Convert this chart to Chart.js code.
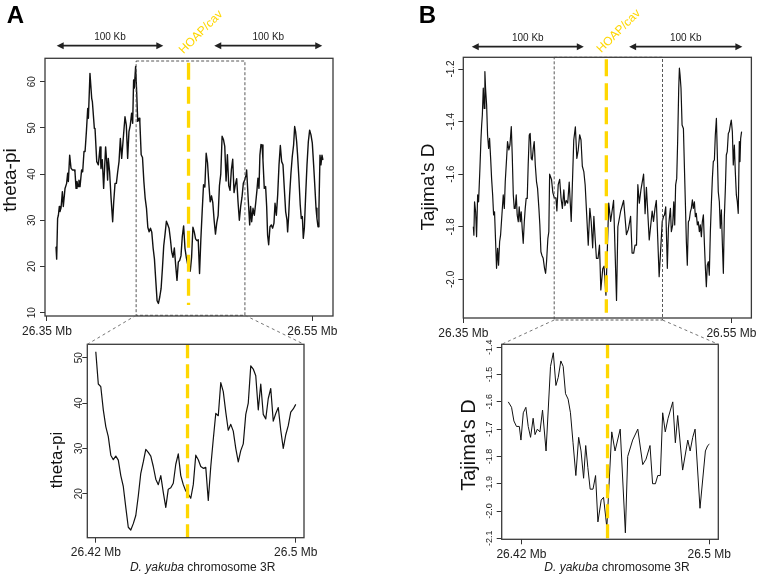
<!DOCTYPE html>
<html><head><meta charset="utf-8">
<script src="https://cdn.jsdelivr.net/npm/chart.js@4/dist/chart.umd.min.js"></script>
<style>
html,body{margin:0;padding:0;background:#fff;}
#wrap{position:relative;width:760px;height:576px;overflow:hidden;background:#fff;}
canvas{position:absolute;left:0;top:0;}
</style></head><body><div id="wrap">
<canvas id="cTA" width="760" height="576"></canvas>
<canvas id="cTB" width="760" height="576"></canvas>
<canvas id="cBA" width="760" height="576"></canvas>
<canvas id="cBB" width="760" height="576"></canvas>
</div>
<script>
// ---------------- DATA ----------------
// Panel A (theta-pi), positions in Mb
const preAPos = [26.3568,26.3573,26.3580,26.3586,26.3593,26.3598,26.3606,26.3616,26.3623,26.3636,26.3648,26.3656,26.3661,26.3671,26.3681,26.3691,26.3706,26.3711,26.3719,26.3726,26.3734,26.3741,26.3749,26.3761,26.3769,26.3779,26.3787,26.3797,26.3807,26.3812,26.3824,26.3837,26.3842,26.3857,26.3862,26.3875,26.3887,26.3900,26.3907,26.3917,26.3927,26.3942,26.3950,26.3957,26.3962,26.3972,26.3983,26.3995,26.4003,26.4013,26.4023,26.4033,26.4043,26.4053,26.4063,26.4073,26.4088,26.4098,26.4108,26.4118,26.4128,26.4138,26.4146,26.4153,26.4158,26.4168,26.4176,26.4184,26.4194];
const preAVal = [24.3,21.6,30.4,31.1,33,31.9,32.7,36.2,33,36.9,38,40.2,38.4,44.1,41.3,40.9,40.9,40.5,36.9,38.4,37.3,38.7,37.3,40.9,40.5,44.9,44.9,49.2,54.2,52.1,61.8,56.4,55.7,49.9,49.9,42.7,42,45.9,41.2,43.1,36.9,45.9,42.7,38.7,43.4,40.5,34.8,29.7,34,38,38,40.5,42.7,47.7,43.4,47,52.4,50.6,43.4,49.2,50.6,53.2,51,60.4,58.6,63.3,57.8,51.4,52.1];
const zoomAPos = [26.420,26.421,26.422,26.423,26.424,26.425,26.426,26.427,26.428,26.429,26.430,26.431,26.432,26.433,26.434,26.435,26.436,26.437,26.438,26.439,26.440,26.441,26.442,26.443,26.444,26.445,26.446,26.447,26.448,26.449,26.450,26.451,26.452,26.453,26.454,26.455,26.456,26.457,26.458,26.459,26.460,26.461,26.462,26.463,26.464,26.465,26.466,26.467,26.468,26.469,26.470,26.471,26.472,26.473,26.474,26.475,26.476,26.477,26.478,26.479,26.480,26.481,26.482,26.483,26.484,26.485,26.486,26.487,26.488,26.489,26.490,26.491,26.492,26.493,26.494,26.495,26.496,26.497,26.498,26.499,26.500];
const zoomAVal = [51.3,44.2,43.6,38.5,34.8,32.6,28.5,27.5,28.3,27.4,24,21.6,17,12.6,12,13.4,15.2,19.5,24.5,27,29.8,29.1,28.3,26,23.2,22,24,20.3,17,21,21.3,22.3,26.5,28.8,24,22,20.6,19.9,19,22,28.5,27.5,26,25.6,25.8,18.5,26,32,37.7,37.2,44.5,42.5,38,34,35.3,33.8,30,27,29.5,31,37.5,40,48.2,47.5,46,38.5,44.2,37.5,36.5,41,43.2,36,37.7,39,34,30,33,35,38,38.7,39.7];
const postAPos = [26.5005,26.5018,26.5028,26.5035,26.5043,26.5053,26.5063,26.5073,26.5083,26.5090,26.5098,26.5105,26.5113,26.5121,26.5128,26.5138,26.5148,26.5156,26.5163,26.5171,26.5181,26.5191,26.5201,26.5211,26.5219,26.5229,26.5239,26.5249,26.5259,26.5269,26.5279,26.5289,26.5299,26.5309,26.5314,26.5322,26.5329,26.5339,26.5349,26.5359,26.5367,26.5374,26.5382,26.5389,26.5399,26.5409,26.5417,26.5425,26.5432,26.5440,26.5450,26.5460,26.5470,26.5480,26.5490,26.5500,26.5510,26.5520,26.5528,26.5535,26.5543,26.5550,26.5558,26.5565,26.5573,26.5580];
const postAVal = [40.9,34,29,33,29.7,32.6,31.1,33.7,36.6,39.1,36.9,44.1,46.4,46.3,43.05,36.9,37.3,33,26.8,24.7,28.6,29,28.3,29.4,33.7,31.1,35.5,42,46.2,42.7,42,36.9,31.9,30.1,27.5,31.1,35.5,40.2,43.8,46.3,50.3,49.2,47,44.1,39.1,33.3,30.4,30.8,26.1,28.3,35.5,42,47,49.5,48.5,46.7,42,36.9,32.6,30.4,28.6,32.6,44.1,42,44.1,43.05];

// Panel B (Tajima's D)
const preBPos = [26.3575,26.3579,26.3584,26.3592,26.3599,26.3607,26.3614,26.3624,26.3632,26.3637,26.3642,26.3649,26.3656,26.3661,26.3666,26.3674,26.3681,26.3689,26.3696,26.3704,26.3711,26.3719,26.3726,26.3733,26.3741,26.3748,26.3756,26.3763,26.3771,26.3778,26.3788,26.3798,26.3806,26.3813,26.3823,26.3830,26.3840,26.3848,26.3858,26.3865,26.3873,26.3880,26.3887,26.3895,26.3902,26.3910,26.3917,26.3925,26.3932,26.3940,26.3947,26.3955,26.3962,26.3969,26.3977,26.3984,26.3992,26.3999,26.4007,26.4014,26.4022,26.4029,26.4037,26.4046,26.4054,26.4064,26.4071,26.4079,26.4086,26.4096,26.4106,26.4114,26.4121,26.4131,26.4138];
const preBVal = [-1.80,-1.832,-1.705,-1.743,-1.838,-1.679,-1.705,-1.578,-1.464,-1.413,-1.375,-1.273,-1.350,-1.210,-1.273,-1.337,-1.451,-1.502,-1.464,-1.540,-1.616,-1.679,-1.755,-1.743,-1.857,-1.958,-1.882,-1.946,-1.857,-1.832,-1.755,-1.679,-1.730,-1.628,-1.540,-1.476,-1.508,-1.489,-1.419,-1.527,-1.679,-1.730,-1.730,-1.679,-1.755,-1.781,-1.724,-1.781,-1.743,-1.812,-1.863,-1.781,-1.730,-1.692,-1.692,-1.565,-1.451,-1.445,-1.540,-1.546,-1.502,-1.476,-1.565,-1.628,-1.654,-1.730,-1.793,-1.895,-1.908,-1.920,-1.958,-1.977,-1.933,-1.844,-1.819];
const zoomBPos = [26.4144,26.4158,26.4168,26.4179,26.4191,26.4198,26.4208,26.4219,26.4229,26.4239,26.4250,26.4258,26.4268,26.4279,26.4290,26.4305,26.4324,26.4336,26.4347,26.4357,26.4368,26.4378,26.4388,26.4399,26.4409,26.4420,26.4432,26.4444,26.4454,26.4465,26.4474,26.4483,26.4493,26.4505,26.4516,26.4526,26.4540,26.4550,26.4564,26.4585,26.4599,26.4621,26.4643,26.4653,26.4674,26.4696,26.4717,26.4731,26.4748,26.4759,26.4771,26.4781,26.4792,26.4802,26.4813,26.4825,26.4845,26.4856,26.4866,26.4887,26.4909,26.4919,26.4930,26.4940,26.4961,26.4984,26.4994,26.5001];
const zoomBVal = [-1.60,-1.62,-1.67,-1.69,-1.69,-1.74,-1.64,-1.62,-1.69,-1.73,-1.66,-1.72,-1.70,-1.71,-1.63,-1.78,-1.47,-1.42,-1.54,-1.51,-1.45,-1.47,-1.57,-1.59,-1.64,-1.75,-1.87,-1.73,-1.78,-1.88,-1.76,-1.84,-1.92,-1.92,-1.87,-2.04,-1.96,-1.95,-2.06,-1.71,-1.78,-1.70,-2.08,-1.80,-1.74,-1.70,-1.83,-1.81,-1.76,-1.90,-1.90,-1.87,-1.87,-1.64,-1.71,-1.66,-1.60,-1.75,-1.65,-1.85,-1.74,-1.78,-1.73,-1.70,-1.99,-1.78,-1.76,-1.755];
const postBPos = [26.5010,26.5015,26.5022,26.5030,26.5037,26.5045,26.5052,26.5062,26.5070,26.5077,26.5084,26.5092,26.5099,26.5107,26.5112,26.5117,26.5124,26.5132,26.5142,26.5149,26.5157,26.5164,26.5171,26.5179,26.5186,26.5194,26.5201,26.5209,26.5216,26.5224,26.5231,26.5238,26.5246,26.5253,26.5261,26.5268,26.5276,26.5283,26.5291,26.5298,26.5306,26.5313,26.5320,26.5328,26.5335,26.5343,26.5350,26.5358,26.5365,26.5373,26.5380,26.5388,26.5395,26.5402,26.5410,26.5417,26.5425,26.5432,26.5440,26.5447,26.5455,26.5462,26.5469,26.5477,26.5484,26.5492,26.5499,26.5507,26.5514,26.5522,26.5529,26.5537,26.5544,26.5551,26.5559,26.5564,26.5569,26.5576];
const postBVal = [-1.724,-1.819,-1.958,-1.806,-1.768,-1.730,-1.819,-1.793,-1.705,-1.793,-1.641,-1.616,-1.476,-1.273,-1.197,-1.223,-1.273,-1.413,-1.426,-1.565,-1.717,-1.857,-1.946,-1.781,-1.774,-1.743,-1.730,-1.698,-1.730,-1.705,-1.762,-1.749,-1.793,-1.781,-1.819,-1.793,-1.838,-1.781,-1.755,-1.857,-1.958,-2.028,-1.946,-1.933,-1.984,-1.819,-1.717,-1.616,-1.552,-1.546,-1.451,-1.388,-1.527,-1.667,-1.705,-1.806,-1.736,-1.857,-1.977,-1.768,-1.654,-1.527,-1.514,-1.445,-1.438,-1.413,-1.394,-1.438,-1.565,-1.489,-1.590,-1.679,-1.705,-1.749,-1.476,-1.552,-1.464,-1.438];

// Ticks
const topXTicks = [26.35, 26.55];
const topXTickLabels = ['26.35 Mb', '26.55 Mb'];
const zoomXTicks = [26.42, 26.5];
const zoomXTickLabels = ['26.42 Mb', '26.5 Mb'];
const topAYTicks = [10, 20, 30, 40, 50, 60];
const topAYTickLabels = ['10', '20', '30', '40', '50', '60'];
const zoomAYTicks = [20, 30, 40, 50];
const zoomAYTickLabels = ['20', '30', '40', '50'];
const topBYTicks = [-1.2, -1.4, -1.6, -1.8, -2.0];
const topBYTickLabels = ['-1.2', '-1.4', '-1.6', '-1.8', '-2.0'];
const zoomBYTicks = [-1.4, -1.5, -1.6, -1.7, -1.8, -1.9, -2.0, -2.1];
const zoomBYTickLabels = ['-1.4', '-1.5', '-1.6', '-1.7', '-1.8', '-1.9', '-2.0', '-2.1'];
const HOAP = 26.4567; // HOAP/cav position (Mb)

// ---------------- DRAWING ----------------
const FONT = '"Liberation Sans", Arial, Helvetica, sans-serif';
const GOLD = '#FFD700';
const INK = '#222';

function zip(p, v) {
  const n = Math.min(p.length, v.length), out = [];
  for (let i = 0; i < n; i++) out.push({ x: p[i], y: v[i] });
  return out;
}

function makeChart(id, o) {
  const a = o.area;
  const deco = {
    id: 'deco_' + id,
    afterDatasetsDraw(chart) {
      const c = chart.ctx, hx = chart.scales.x.getPixelForValue(HOAP);
      c.save();
      c.strokeStyle = GOLD; c.lineWidth = 3.3; c.setLineDash(o.yDash);
      c.beginPath(); c.moveTo(hx, o.yellowTop); c.lineTo(hx, o.yellowBottom); c.stroke();
      c.restore();
    },
    afterDraw(chart) {
      const c = chart.ctx, ca = chart.chartArea, ys = chart.scales.y;
      c.save();
      c.strokeStyle = '#3a3a3a'; c.lineWidth = 1.3;
      c.strokeRect(ca.left, ca.top, ca.right - ca.left, ca.bottom - ca.top);
      c.fillStyle = INK; c.font = o.tickFont + 'px ' + FONT;
      c.textAlign = 'center'; c.textBaseline = 'middle';
      o.yTicks.forEach((v, i) => {
        const y = ys.getPixelForValue(v);
        c.save(); c.translate(ca.left - o.tickOff, y); c.rotate(-Math.PI / 2);
        c.fillText(o.yTickLabels[i], 0, 0); c.restore();
      });
      c.font = o.titleSize + 'px ' + FONT; c.fillStyle = '#111';
      c.save(); c.translate(o.titleX, o.titleY); c.rotate(-Math.PI / 2);
      c.fillText(o.yTitle, 0, 0); c.restore();
      c.restore();
      if (o.extra) o.extra(chart);
    }
  };
  const gridOpts = { display: true, drawOnChartArea: false, drawTicks: true, tickLength: 5, color: '#333', lineWidth: 1 };
  return new Chart(document.getElementById(id), {
    type: 'line',
    data: { datasets: [{ data: o.pts, borderColor: '#111', borderWidth: o.lw, pointRadius: 0, tension: 0, fill: false, borderJoinStyle: 'round' }] },
    options: {
      responsive: false, animation: false, devicePixelRatio: 1, events: [],
      layout: { padding: { left: a.l - 30, top: a.t, right: 760 - a.r, bottom: 576 - a.b - 30 } },
      plugins: { legend: { display: false }, tooltip: { enabled: false } },
      scales: {
        x: {
          type: 'linear', min: o.xMin, max: o.xMax,
          afterFit(s) { s.height = 30; },
          afterBuildTicks(s) { s.ticks = o.xTicks.map(v => ({ value: v })); },
          ticks: { autoSkip: false, maxRotation: 0, minRotation: 0, color: INK, padding: 3,
                   font: { family: FONT, size: 12 }, callback: (v, i) => o.xTickLabels[i] },
          grid: gridOpts, border: { display: false }
        },
        y: {
          type: 'linear', min: o.yMin, max: o.yMax,
          afterFit(s) { s.width = 30; },
          afterBuildTicks(s) { s.ticks = o.yTicks.map(v => ({ value: v })); },
          ticks: { display: false },
          grid: gridOpts, border: { display: false }
        }
      }
    },
    plugins: [deco]
  });
}

function drawArrow(c, x1, x2, y) {
  c.save();
  c.strokeStyle = INK; c.fillStyle = INK; c.lineWidth = 1.8;
  c.beginPath(); c.moveTo(x1 + 5, y); c.lineTo(x2 - 5, y); c.stroke();
  [[x1, 1], [x2, -1]].forEach(([x, d]) => {
    c.beginPath(); c.moveTo(x, y); c.lineTo(x + d * 7, y - 3.5); c.lineTo(x + d * 7, y + 3.5); c.closePath(); c.fill();
  });
  c.restore();
}

function topExtra(p) {
  return chart => {
    const c = chart.ctx, xs = chart.scales.x, ca = chart.chartArea;
    c.save();
    // panel letter
    c.fillStyle = '#000'; c.font = 'bold 24px ' + FONT; c.textAlign = 'center'; c.textBaseline = 'alphabetic';
    c.fillText(p.letter, p.letterX, 23);
    // 100 Kb arrows
    c.font = '10px ' + FONT; c.fillStyle = INK; c.textBaseline = 'middle';
    p.arrows.forEach(([s, e]) => {
      const x1 = xs.getPixelForValue(s), x2 = xs.getPixelForValue(e);
      drawArrow(c, x1, x2, p.arrowY);
      c.fillText('100 Kb', (x1 + x2) / 2, p.textY);
    });
    // HOAP/cav label
    const hx = xs.getPixelForValue(HOAP);
    c.save(); c.translate(hx - 5, ca.top - 4); c.rotate(-Math.PI / 4);
    c.fillStyle = GOLD; c.font = '12px ' + FONT; c.textAlign = 'left'; c.textBaseline = 'alphabetic';
    c.fillText('HOAP/cav', 0, 0); c.restore();
    // dashed zoom box
    const bx1 = xs.getPixelForValue(p.box[0]), bx2 = xs.getPixelForValue(p.box[1]);
    c.strokeStyle = '#444'; c.lineWidth = 0.9; c.setLineDash([3, 2]);
    c.strokeRect(bx1, ca.top + p.boxTop, bx2 - bx1, (ca.bottom + p.boxBottom) - (ca.top + p.boxTop));
    c.restore();
  };
}

function bottomExtra(p) {
  return chart => {
    const c = chart.ctx, ca = chart.chartArea;
    const top = p.parent(), txs = top.scales.x, tca = top.chartArea;
    const bx1 = txs.getPixelForValue(p.box[0]), bx2 = txs.getPixelForValue(p.box[1]);
    const by = tca.bottom + p.boxBottom;
    c.save();
    c.strokeStyle = '#666'; c.lineWidth = 0.9; c.setLineDash([3, 3]);
    c.beginPath(); c.moveTo(bx1, by); c.lineTo(ca.left, ca.top); c.stroke();
    c.beginPath(); c.moveTo(bx2, by); c.lineTo(ca.right, ca.top); c.stroke();
    c.setLineDash([]);
    // x-axis title
    const t1 = 'D. yakuba', t2 = ' chromosome 3R';
    c.font = 'italic 12px ' + FONT; const w1 = c.measureText(t1).width;
    c.font = '12px ' + FONT; const w2 = c.measureText(t2).width;
    const cx = (ca.left + ca.right) / 2 + 7, x0 = cx - (w1 + w2) / 2;
    c.fillStyle = INK; c.textAlign = 'left'; c.textBaseline = 'middle';
    c.font = 'italic 12px ' + FONT; c.fillText(t1, x0, 567.5);
    c.font = '12px ' + FONT; c.fillText(t2, x0 + w1, 567.5);
    c.restore();
  };
}

const boxA = [26.4172, 26.4992];
const boxB = [26.4178, 26.4986];

const chartTA = makeChart('cTA', {
  pts: zip([...preAPos, ...zoomAPos, ...postAPos], [...preAVal, ...zoomAVal, ...postAVal]),
  lw: 1.4, area: { l: 45, t: 58.3, r: 333, b: 316 },
  xMin: 26.3485, xMax: 26.5656, yMin: 9.29, yMax: 65.06,
  xTicks: topXTicks, xTickLabels: topXTickLabels, yTicks: topAYTicks, yTickLabels: topAYTickLabels,
  tickFont: 10, tickOff: 12.5, yTitle: 'theta-pi', titleSize: 19, titleX: 11, titleY: 180,
  yDash: [17, 7], yellowTop: 62.7, yellowBottom: 305,
  extra: topExtra({ letter: 'A', letterX: 15.5, arrows: [[26.3573, 26.4377], [26.4761, 26.5575]], arrowY: 45.7, textY: 37.5, box: boxA, boxTop: 2.7, boxBottom: -0.7 })
});

const chartTB = makeChart('cTB', {
  pts: zip([...preBPos, ...zoomBPos, ...postBPos], [...preBVal, ...zoomBVal, ...postBVal]),
  lw: 1.2, area: { l: 463.3, t: 57.3, r: 751.7, b: 318 },
  xMin: 26.35, xMax: 26.5649, yMin: -2.147, yMax: -1.1555,
  xTicks: topXTicks, xTickLabels: topXTickLabels, yTicks: topBYTicks, yTickLabels: topBYTickLabels,
  tickFont: 10, tickOff: 11.6, yTitle: "Tajima's D", titleSize: 19, titleX: 429, titleY: 187,
  yDash: [17, 7], yellowTop: 59.3, yellowBottom: 312.7,
  extra: topExtra({ letter: 'B', letterX: 427.5, arrows: [[26.3563, 26.4399], [26.4737, 26.5582]], arrowY: 46.7, textY: 38.3, box: boxB, boxTop: 0, boxBottom: 2 })
});

const chartBA = makeChart('cBA', {
  pts: zip(zoomAPos, zoomAVal),
  lw: 1.2, area: { l: 87.3, t: 344.3, r: 304, b: 537.7 },
  xMin: 26.4166, xMax: 26.5033, yMin: 10.3, yMax: 52.95,
  xTicks: zoomXTicks, xTickLabels: zoomXTickLabels, yTicks: zoomAYTicks, yTickLabels: zoomAYTickLabels,
  tickFont: 10, tickOff: 8.5, yTitle: 'theta-pi', titleSize: 17, titleX: 57, titleY: 460,
  yDash: [14, 6], yellowTop: 344.3, yellowBottom: 538,
  extra: bottomExtra({ parent: () => chartTA, box: boxA, boxBottom: -0.7 })
});

const chartBB = makeChart('cBB', {
  pts: zip(zoomBPos, zoomBVal),
  lw: 1.0, area: { l: 501.7, t: 344.3, r: 718.3, b: 539.3 },
  xMin: 26.4116, xMax: 26.5039, yMin: -2.1037, yMax: -1.389,
  xTicks: zoomXTicks, xTickLabels: zoomXTickLabels, yTicks: zoomBYTicks, yTickLabels: zoomBYTickLabels,
  tickFont: 9, tickOff: 12, yTitle: "Tajima's D", titleSize: 20, titleX: 469.5, titleY: 445,
  yDash: [14, 6], yellowTop: 344.3, yellowBottom: 539.5,
  extra: bottomExtra({ parent: () => chartTB, box: boxB, boxBottom: 2 })
});
</script></body></html>
